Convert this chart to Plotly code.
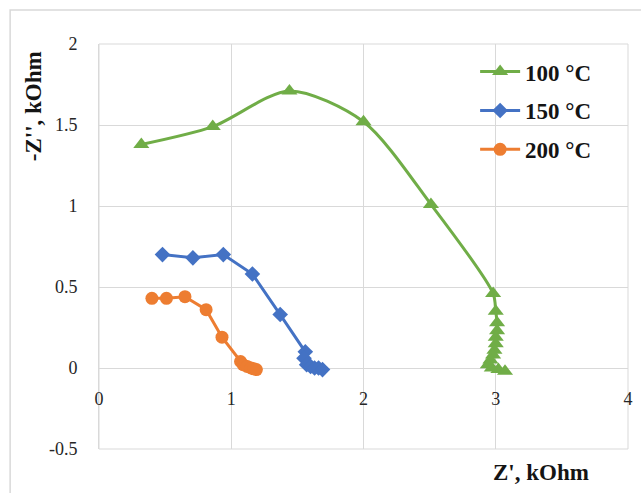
import plotly.graph_objects as go

# Nyquist data: real part Z' and negative imaginary part -Z'' (kOhm)
z_re_100 = [0.32, 0.86, 1.44, 2.0, 2.51, 2.98, 3.0, 3.01, 3.01, 3.0, 3.0, 2.99, 2.98, 2.96, 2.94, 2.97, 3.02, 3.07]
z_im_100 = [1.38, 1.49, 1.71, 1.52, 1.01, 0.46, 0.35, 0.28, 0.23, 0.19, 0.15, 0.11, 0.08, 0.05, 0.02, 0.0, -0.01, -0.02]

z_re_150 = [0.48, 0.71, 0.94, 1.16, 1.37, 1.56, 1.55, 1.57, 1.6, 1.63, 1.66, 1.69]
z_im_150 = [0.70, 0.68, 0.70, 0.58, 0.33, 0.10, 0.06, 0.02, 0.01, 0.00, 0.0, -0.01]

z_re_200 = [0.40, 0.51, 0.65, 0.81, 0.93, 1.07, 1.09, 1.12, 1.15, 1.17, 1.19]
z_im_200 = [0.43, 0.43, 0.44, 0.36, 0.19, 0.04, 0.02, 0.01, 0.0, -0.005, -0.01]

series_names = ["100 °C", "150 °C", "200 °C"]
x_ticks = [0, 1, 2, 3, 4]
y_ticks = [-0.5, 0, 0.5, 1, 1.5, 2]
y_tick_labels = ["-0.5", "0", "0.5", "1", "1.5", "2"]

SERIF = "Liberation Serif, Times New Roman, serif"
GRID = "#D9D9D9"
TITLE_FONT = dict(family=SERIF, size=23, color="#141414", weight="bold")

fig = go.Figure()
fig.add_trace(go.Scatter(
    x=z_re_100, y=z_im_100, name=series_names[0], legendgroup="a",
    mode="lines+markers", line=dict(color="#70AD47", width=3, shape="spline", smoothing=0.8),
    marker=dict(symbol="triangle-up", size=14, color="#70AD47"),
))
fig.add_trace(go.Scatter(
    x=z_re_150, y=z_im_150, name=series_names[1], legendgroup="b",
    mode="lines+markers", line=dict(color="#4472C4", width=3),
    marker=dict(symbol="diamond", size=12, color="#4472C4"),
))
fig.add_trace(go.Scatter(
    x=z_re_200, y=z_im_200, name=series_names[2], legendgroup="c",
    mode="lines+markers", line=dict(color="#ED7D31", width=3),
    marker=dict(symbol="circle", size=13, color="#ED7D31"),
))

fig.update_layout(
    width=641, height=493,
    margin=dict(l=99, r=8, t=44, b=44),
    paper_bgcolor="white", plot_bgcolor="white",
    font=dict(family=SERIF, size=18, color="#262626"),
    showlegend=True,
    legend=dict(
        x=0.711, y=0.985, xanchor="left", yanchor="top",
        bgcolor="rgba(0,0,0,0)", tracegroupgap=6,
        font=TITLE_FONT, itemwidth=40,
    ),
    xaxis=dict(
        range=[0, 4], tickvals=x_ticks, showgrid=True, gridcolor=GRID, gridwidth=1,
        zeroline=False, showline=False, ticks="",
        anchor="free", position=0.2, ticklabelstandoff=18,
    ),
    yaxis=dict(
        range=[-0.5, 2], tickvals=y_ticks, ticktext=y_tick_labels,
        showgrid=True, gridcolor=GRID, gridwidth=1,
        zeroline=True, zerolinecolor=GRID, zerolinewidth=1,
        showline=True, linecolor=GRID, linewidth=1, ticks="", ticklabelstandoff=17,
    ),
    shapes=[
        # frame around the plot area
        dict(type="rect", xref="paper", yref="paper", x0=0, x1=1, y0=0, y1=1,
             line=dict(color=GRID, width=1), layer="below"),
        # outer chart border (right and bottom edges fall off the page)
        dict(type="rect", xref="paper", yref="paper", x0=-0.168, x1=1.1, y0=-0.2, y1=1.084,
             line=dict(color=GRID, width=1.5), layer="below"),
    ],
    annotations=[
        dict(text="-Z'', kOhm", xref="paper", yref="paper", x=-0.125, y=0.846,
             textangle=-90, showarrow=False, xanchor="center", yanchor="middle",
             font=TITLE_FONT),
        dict(text="Z', kOhm", xref="paper", yref="paper", x=0.836, y=-0.057,
             showarrow=False, xanchor="center", yanchor="middle",
             font=TITLE_FONT),
    ],
)

fig.write_html("out.html")
